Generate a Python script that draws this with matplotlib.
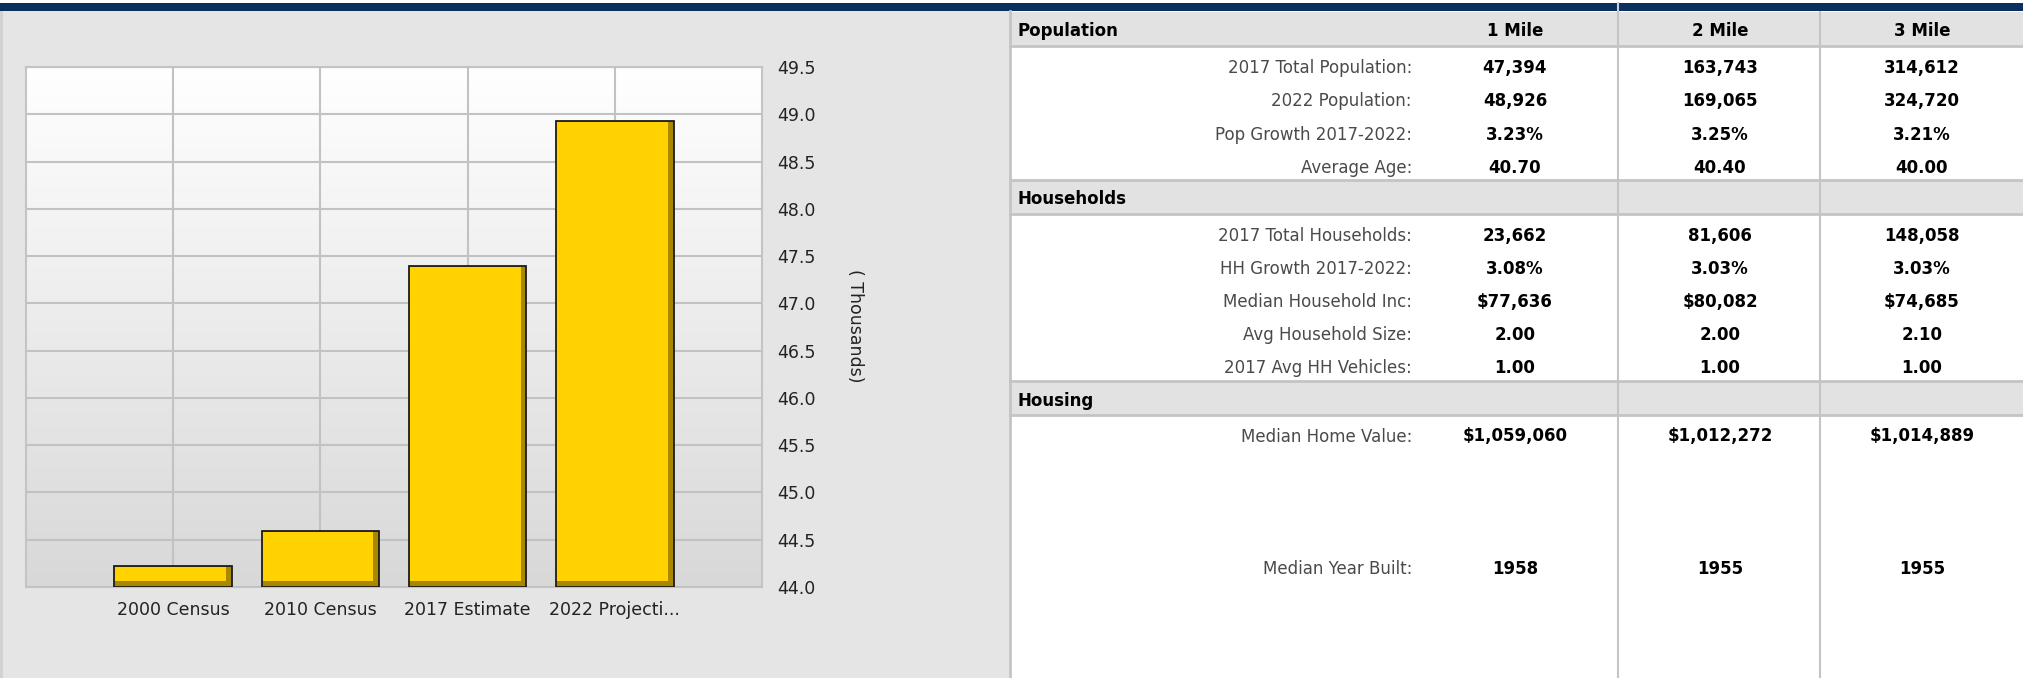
import matplotlib
matplotlib.use("Agg")
import matplotlib.pyplot as plt
import numpy as np
from matplotlib.colors import LinearSegmentedColormap
from matplotlib.patches import Rectangle

# chart data (thousands)
categories = ["2000 Census", "2010 Census", "2017 Estimate", "2022 Projecti..."]
population = [44.22, 44.59, 47.394, 48.926]
y_ticks = [44.0, 44.5, 45.0, 45.5, 46.0, 46.5, 47.0, 47.5, 48.0, 48.5, 49.0, 49.5]

# table data
col_headers = ["1 Mile", "2 Mile", "3 Mile"]
pop_labels = ["2017 Total Population:", "2022 Population:", "Pop Growth 2017-2022:", "Average Age:"]
pop_values = [["47,394", "163,743", "314,612"],
              ["48,926", "169,065", "324,720"],
              ["3.23%", "3.25%", "3.21%"],
              ["40.70", "40.40", "40.00"]]
hh_labels = ["2017 Total Households:", "HH Growth 2017-2022:", "Median Household Inc:",
             "Avg Household Size:", "2017 Avg HH Vehicles:"]
hh_values = [["23,662", "81,606", "148,058"],
             ["3.08%", "3.03%", "3.03%"],
             ["$77,636", "$80,082", "$74,685"],
             ["2.00", "2.00", "2.10"],
             ["1.00", "1.00", "1.00"]]
housing_labels = ["Median Home Value:", "Median Year Built:"]
housing_values = [["$1,059,060", "$1,012,272", "$1,014,889"],
                  ["1958", "1955", "1955"]]

W, H = 2023, 678
fig = plt.figure(figsize=(W / 100, H / 100), dpi=100)
fig.patch.set_facecolor("white")

# full-figure pixel overlay for panels / table
bg = fig.add_axes([0, 0, 1, 1], zorder=0)
bg.set_xlim(0, W)
bg.set_ylim(H, 0)
bg.axis("off")
bg.add_patch(Rectangle((0, 11), 1010, H - 11, color="#e5e5e5", lw=0))
bg.add_patch(Rectangle((0, 11), 3, H - 11, color="#d2d2d2", lw=0))
bg.add_patch(Rectangle((0, 3), W, 8, color="#0b2f5e", lw=0))
bg.plot([1618, 1618], [3, 11], color="#c8d0dc", lw=1.5)

# ---- table ----
grid_c = "#c4c4c4"
lab_x, col_x = 1412, [1515, 1720, 1922]
lab_fs, val_fs = 12, 12


def header(y0, title, cols=None):
    bg.add_patch(Rectangle((1010, y0), W - 1010, 34, color="#e2e2e2", lw=0))
    bg.plot([1010, W], [y0 + 34, y0 + 34], color=grid_c, lw=2)
    bg.text(1018, y0 + 19.5, title, fontsize=12, fontweight="bold", va="center", ha="left")
    if cols:
        for cx, c in zip(col_x, cols):
            bg.text(cx, y0 + 19.5, c, fontsize=12, fontweight="bold", va="center", ha="center")
    return y0 + 34


def rows(y0, labels, values, steps):
    y = y0
    for lab, vals, st in zip(labels, values, steps):
        y += st
        bg.text(lab_x, y, lab, fontsize=lab_fs, color="#4a4a4a", ha="right", va="center")
        for cx, v in zip(col_x, vals):
            bg.text(cx, y, v, fontsize=val_fs, fontweight="bold", ha="center", va="center")
    return y


y = header(12, "Population", col_headers)
y = rows(y, pop_labels, pop_values, [22] + [33.3] * 3)
bg.plot([1010, W], [180, 180], color=grid_c, lw=2)
y = header(180, "Households")
y = rows(y, hh_labels, hh_values, [22] + [33.1] * 4)
bg.plot([1010, W], [381, 381], color=grid_c, lw=2)
y = header(381, "Housing")
rows(y, housing_labels, housing_values, [21.5, 132])
bg.plot([1010, 1010], [11, H], color=grid_c, lw=2)
for vx in (1618, 1820):
    bg.plot([vx, vx], [12, H], color=grid_c, lw=1.5)

# ---- bar chart ----
ax = fig.add_axes([26 / W, 1 - 587 / H, (762 - 26) / W, (587 - 67) / H], zorder=2)
ymin, ymax = y_ticks[0], y_ticks[-1]
grad = np.linspace(1, 0, 256).reshape(-1, 1)
cmap = LinearSegmentedColormap.from_list("g", ["#d8d8d8", "#ffffff"])
ax.imshow(grad, extent=[-1, 4, ymin, ymax], aspect="auto", cmap=cmap, zorder=0,
          vmin=0, vmax=1, origin="upper")
ax.set_xlim(-1, 4)
ax.set_ylim(ymin, ymax)

x = np.arange(len(categories))
heights = np.array(population) - ymin
w = 0.8
# shadow (bevel) bar, bright face, outline
ax.bar(x, heights, bottom=ymin, width=w, color="#a98800", lw=0, zorder=3)
ax.bar(x - 0.02, heights - 0.07, bottom=ymin + 0.06, width=w - 0.04, color="#ffd200",
       lw=0, zorder=4)
ax.bar(x, heights, bottom=ymin, width=w, fill=False, edgecolor="#1c1c1c", lw=1.3, zorder=5)

ax.set_xticks(x)
ax.set_xticklabels(categories, fontsize=12.5, color="#222222")
ax.set_yticks(y_ticks)
ax.set_yticklabels(["%.1f" % t for t in y_ticks], fontsize=12.5, color="#222222")
ax.yaxis.tick_right()
ax.tick_params(axis="both", length=0)
ax.tick_params(axis="x", pad=10)
ax.tick_params(axis="y", pad=11)
ax.grid(True, color="#c2c2c2", lw=1.5, zorder=1)
ax.set_axisbelow(False)
for gl in ax.get_xgridlines() + ax.get_ygridlines():
    gl.set_zorder(1)
for s in ax.spines.values():
    s.set_color("#c4c4c4")
    s.set_linewidth(1.5)

fig.text(855 / W, 1 - 326 / H, "( Thousands)", rotation=270, ha="center", va="center",
         fontsize=12.5, color="#222222")

fig.savefig("out.png", dpi=100)
